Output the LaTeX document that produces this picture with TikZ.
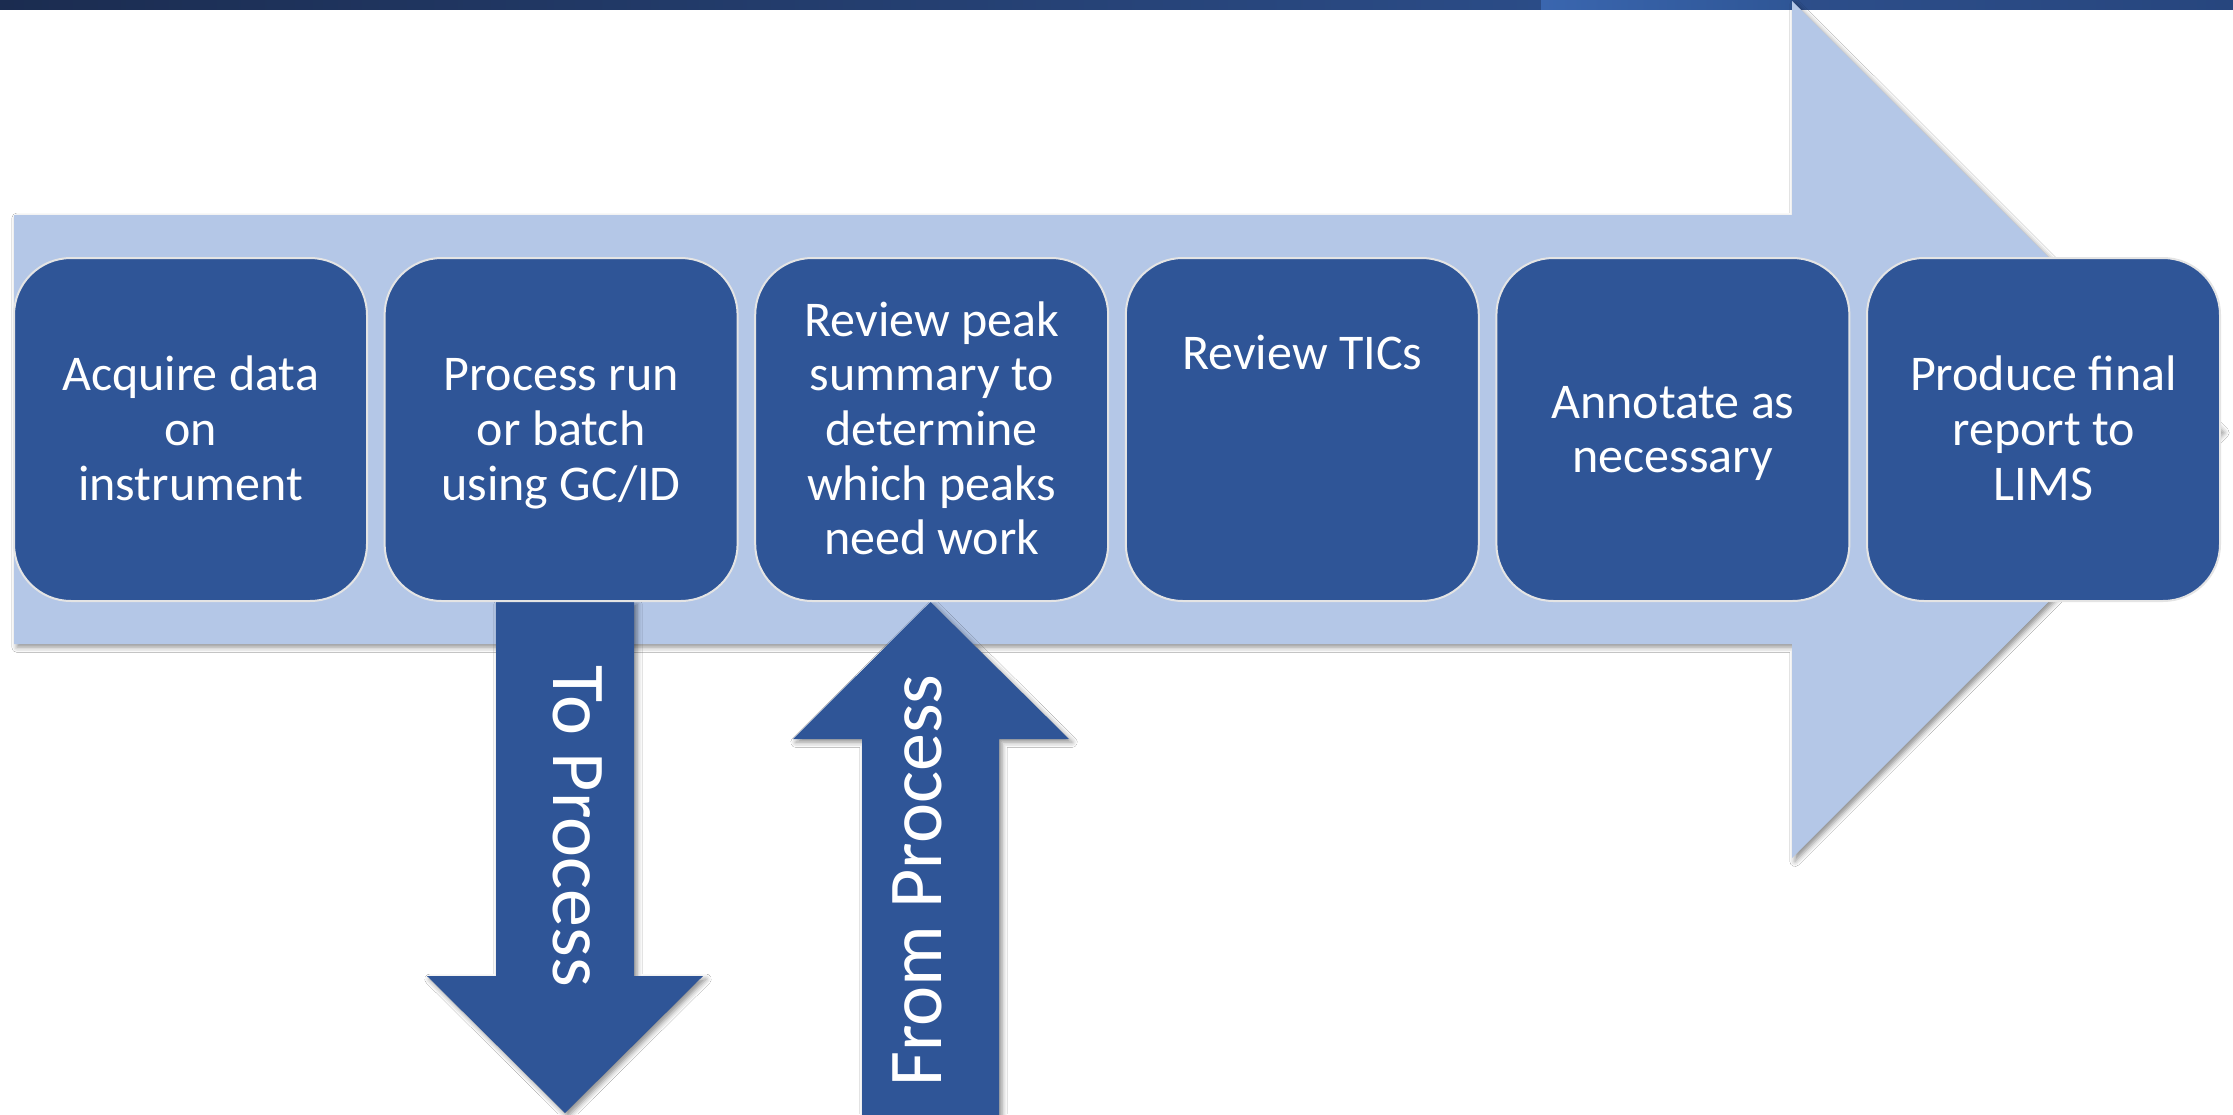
\documentclass[tikz,border=0pt]{standalone}
\usepackage{fontspec}
\setmainfont{Carlito}
\usetikzlibrary{shadows.blur}

\definecolor{stepblue}{HTML}{2F5597}
\definecolor{flowblue}{HTML}{B4C7E7}
\definecolor{stepedge}{HTML}{E4E4E4}

% centred lines whose baselines are spaced by the current \baselineskip;
% the taller first strut sets the block slightly below the box centre
\newcommand{\steplines}[1]{\begin{tabular}{@{}c@{}}\rule{0pt}{24.15pt}#1\end{tabular}}

\tikzset{
  stepbox/.style={draw=stepedge, line width=1pt, fill=stepblue,
    rounded corners=28.5pt, minimum width=176.5pt, minimum height=171.5pt,
    inner sep=0pt, text=white, font=\fontsize{25pt}{27.35pt}\selectfont},
  softshadow/.style={blur shadow={shadow xshift=1.5pt, shadow yshift=-1.6pt,
    shadow blur radius=2.6pt, shadow opacity=45}},
  arrowtext/.style={text=white, inner sep=0pt,
    font=\fontsize{38pt}{45pt}\selectfont},
}

\begin{document}
\begin{tikzpicture}[x=0.5pt, y=-0.5pt]
  \useasboundingbox (0,0) rectangle (2233,1114);
  \fill[white] (0,0) rectangle (2233,1114);

  % title bar along the top edge
  \shade[left color={rgb,255:red,27;green,44;blue,80}, right color={rgb,255:red,43;green,76;blue,135}]
    (0,0) rectangle (1541,9);
  \shade[left color={rgb,255:red,58;green,102;blue,175}, right color={rgb,255:red,47;green,86;blue,150}]
    (1541,0) rectangle (1792,9);
  \shade[left color={rgb,255:red,45;green,78;blue,138}, right color={rgb,255:red,39;green,70;blue,126}]
    (1792,0) rectangle (2233,9);

  % wide background arrow carrying the steps
  \fill[flowblue, softshadow]
    (14,215) -- (1792,215) -- (1792,1) -- (2221,429.5) -- (1792,858)
    -- (1792,644) -- (14,644) -- cycle;

  % arrow leaving the second step
  \fill[stepblue, softshadow]
    (496,601) -- (634,601) -- (634,976) -- (703,976) -- (565,1113)
    -- (427,976) -- (496,976) -- cycle;
  % arrow entering the third step
  \fill[stepblue, softshadow]
    (930.5,602) -- (1069,739) -- (999,739) -- (999,1120) -- (862,1120)
    -- (862,739) -- (793,739) -- cycle;

  \node[arrowtext, rotate=-90, anchor=base west] (tolabel) at (553,665) {To Process};
  \node[arrowtext, rotate=90, anchor=base west] (fromlabel) at (941,1087) {From Process};

  % the six steps
  \node[stepbox] (s1) at (190.5,429.5)  {\steplines{Acquire data\\on\\instrument}};
  \node[stepbox] (s2) at (561.1,429.5)  {\steplines{Process run\\or batch\\using GC/ID}};
  \node[stepbox] (s3) at (931.7,429.5)  {\steplines{Review peak\\summary to\\determine\\which peaks\\need work}};
  \node[stepbox] (s4) at (1302.3,429.5) {\steplines{Review TICs\\[75.5pt]}};
  \node[stepbox] (s5) at (1672.9,429.5) {\steplines{Annotate as\\necessary}};
  \node[stepbox] (s6) at (2043.5,429.5) {\steplines{Produce final\\report to\\LIMS}};
\end{tikzpicture}
\end{document}
